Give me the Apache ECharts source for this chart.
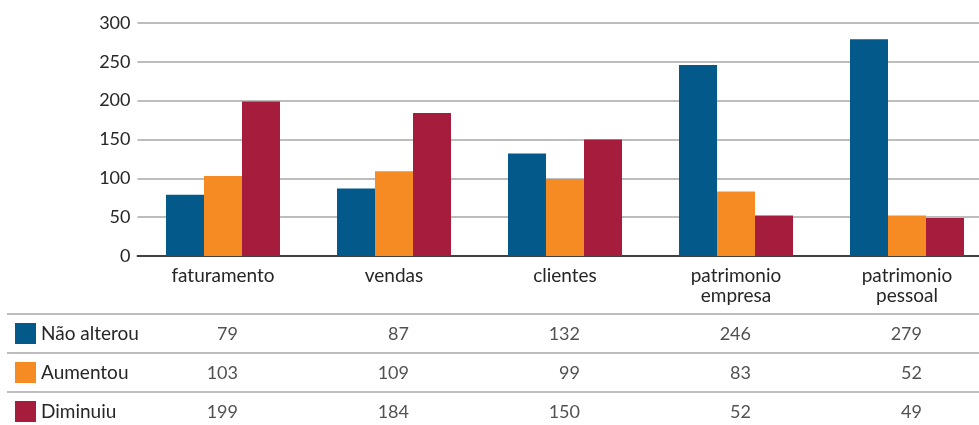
<!DOCTYPE html>
<html>
<head>
<meta charset="utf-8">
<script src="https://cdn.jsdelivr.net/npm/echarts@6/dist/echarts.min.js"></script>
<style>
  html, body { margin: 0; padding: 0; background: #fff; }
  #main { width: 979px; height: 425px; }
</style>
</head>
<body>
<div id="main"></div>
<script>
var categories = ['faturamento', 'vendas', 'clientes', 'patrimonio\nempresa', 'patrimonio\npessoal'];
var rowNames = ['Não alterou', 'Aumentou', 'Diminuiu'];
var naoAlterou = [79, 87, 132, 246, 279];
var aumentou = [103, 109, 99, 83, 52];
var diminuiu = [199, 184, 150, 52, 49];
var colors = ['#02598a', '#f58b22', '#a61c3c'];

var values = [naoAlterou, aumentou, diminuiu];
var fontFam = 'Lato, "Open Sans", sans-serif';
var textCol = '#262626';

var myChart = echarts.init(document.getElementById('main'));

var rich = { t: { fontSize: 19, color: textCol, fontFamily: fontFam, padding: [0, 0, 0, 5] } };
colors.forEach(function (c, i) {
    rich['s' + i] = { width: 21, height: 21, backgroundColor: c };
});

var series = [];
values.forEach(function (vals, i) {
    series.push({
        name: rowNames[i],
        type: 'bar',
        barWidth: 38,
        barGap: 0,
        itemStyle: { color: colors[i] },
        data: vals
    });
});
// data table text under the chart
values.forEach(function (vals, i) {
    series.push({
        type: 'scatter',
        xAxisIndex: 1,
        yAxisIndex: 1,
        symbolSize: 0,
        silent: true,
        label: {
            show: true,
            position: 'inside',
            align: 'right',
            offset: [15, 1],
            fontSize: 18,
            color: textCol,
            fontFamily: fontFam,
            formatter: function (p) { return p.value[2]; }
        },
        data: vals.map(function (v, j) { return [categories[j], rowNames[i], v]; })
    });
});

var option = {
    animation: false,
    grid: [
        { left: 137.5, right: -13.5, top: 23, bottom: 169, outerBoundsMode: 'none' },
        { left: 137.5, right: -13.5, top: 314, height: 117, outerBoundsMode: 'none' },
        { left: 7, right: 0, top: 314, height: 117, outerBoundsMode: 'none' }
    ],
    xAxis: [
        {
            type: 'category',
            gridIndex: 0,
            data: categories,
            axisLine: { lineStyle: { color: '#404040', width: 2 } },
            axisTick: { show: false },
            axisLabel: { fontSize: 19, color: textCol, fontFamily: fontFam, lineHeight: 20, margin: 10 }
        },
        {
            type: 'category',
            gridIndex: 1,
            data: categories,
            show: false
        },
        {
            type: 'category',
            gridIndex: 2,
            data: [''],
            show: false
        }
    ],
    yAxis: [
        {
            type: 'value',
            gridIndex: 0,
            min: 0,
            max: 300,
            interval: 50,
            axisLine: { show: false },
            axisTick: { show: false },
            splitLine: { lineStyle: { color: '#bdbdbd', width: 2 } },
            axisLabel: { fontSize: 18, color: textCol, fontFamily: fontFam, margin: 7 }
        },
        {
            type: 'category',
            gridIndex: 1,
            inverse: true,
            data: rowNames,
            axisLine: { show: false },
            axisTick: { show: false },
            splitLine: { show: false },
            axisLabel: {
                align: 'left',
                margin: 122.5,
                formatter: function (v, i) { return '{s' + i + '|}{t|' + v + '}'; },
                rich: rich
            }
        },
        {
            type: 'category',
            gridIndex: 2,
            inverse: true,
            data: rowNames,
            axisLine: { show: false },
            axisTick: { show: false },
            axisLabel: { show: false },
            splitLine: { show: true, lineStyle: { color: '#bdbdbd', width: 2 } }
        }
    ],
    series: series
};
myChart.setOption(option);
</script>
</body>
</html>
